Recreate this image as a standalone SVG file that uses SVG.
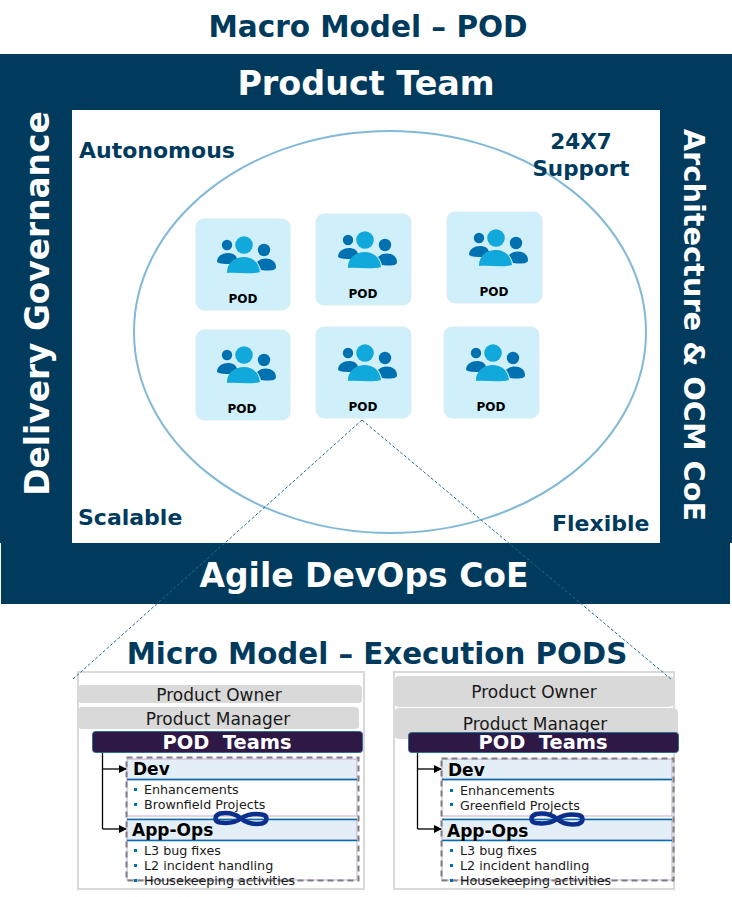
<svg xmlns="http://www.w3.org/2000/svg" width="732" height="897" viewBox="0 0 732 897">
<style>
text{font-family:"DejaVu Sans","Liberation Sans",sans-serif}
.t{font-weight:700;fill:#003a5d;text-anchor:middle}
.w{font-weight:700;fill:#fff;text-anchor:middle}
.l{font-weight:700;fill:#003a5d;font-size:22px}
.podbox{fill:#cff0fb;stroke:#d8ecf5;stroke-width:1}
.podlab{font-weight:700;font-size:12px;fill:#000;text-anchor:middle}
.d1{fill:#0071b0}.d2{fill:#11a9dc}
.grey{fill:#d9d9d9}
.frame{fill:#fff;stroke:#d9d9d9;stroke-width:2}
.pt{fill:#2d1846;stroke:#2f6f8f;stroke-width:1}
.pl{font-size:17px;fill:#1a1a1a;text-anchor:middle}
.pth{font-weight:700;font-size:19.400px;fill:#fff;text-anchor:middle;white-space:pre}
.hd{fill:#e4eef6;stroke:#c6a9dc;stroke-width:1}
.hl{stroke:#0071a8;stroke-width:1.500;fill:none}
.body{fill:#fff;stroke:#c6a9dc;stroke-width:1}
.dash{fill:none;stroke:#7f7f7f;stroke-width:2;stroke-dasharray:6 4}
.hdt{font-weight:700;font-size:17px;fill:#000}
.it{font-size:12.700px;fill:#1a1a1a}
.bl{fill:#0071b0}
.con{fill:none;stroke:#000;stroke-width:1.300}
.lead{fill:none;stroke:#1f6c9a;stroke-width:1;stroke-dasharray:3 2}
.inf{fill:none;stroke:#0a2f8c;stroke-width:4.500}
</style>
<defs>
<marker id="ah" markerWidth="8" markerHeight="8" refX="7" refY="4" orient="auto" markerUnits="userSpaceOnUse"><path d="M0 0L8 4L0 8Z" fill="#000"/></marker>
<g id="icon">
<circle cx="-16" cy="-12" r="5.200" class="d1"/>
<path d="M-26 5C-26 -6 -7 -7 -6 2C-9 3 -11 4 -13 7C-18 7 -23 7 -26 5Z" class="d1"/>
<circle cx="21" cy="-7" r="6.200" class="d1"/>
<path d="M14 5C20 -1 33 1 33 10C33 14 26 14 18 13C17 10 16 7 14 5Z" class="d1"/>
<circle cx="1" cy="-12" r="8.800" class="d2"/>
<path d="M-16 16C-17 -3 15 -7 17 15C6 18 -5 15 -16 16Z" class="d2"/>
</g>
<g id="lem">
<path d="M0 0C-7 -6 -14 -6 -21 -5C-27 -3 -27 3 -21 4C-14 5 -7 5 0 0C7 -5 14 -5 21 -4C27 -3 27 3 21 5C14 6 7 6 0 0Z" class="inf"/>
</g>
</defs>

<g id="title"><text x="368" y="37" class="t" font-size="29.500">Macro Model – POD</text></g>

<g id="product-team">
<rect x="0" y="54" width="732" height="489" fill="#003a5d"/>
<rect x="1" y="543" width="729" height="61" fill="#003a5d"/>
<rect x="72" y="110" width="588" height="433" fill="#fff"/>
<text x="366" y="95" class="w" font-size="33.400">Product Team</text>
</g>
<g id="delivery-governance"><text transform="translate(49 303.500) rotate(-90)" class="w" font-size="32.800">Delivery Governance</text></g>
<g id="architecture"><text transform="translate(684 325) rotate(90)" class="w" font-size="28.800">Architecture &amp; OCM CoE</text></g>
<g id="agile"><text x="364" y="587" class="w" font-size="33">Agile DevOps CoE</text></g>

<g id="circle"><ellipse cx="390" cy="332" rx="256" ry="201" fill="#fff" stroke="#82b9d8" stroke-width="2"/></g>
<g id="labels">
<text x="79" y="158" class="l">Autonomous</text>
<text x="581" y="149" class="l" text-anchor="middle" font-size="21.500" style="font-size:21.500px">24X7</text>
<text x="581" y="176" class="l" text-anchor="middle" style="font-size:21.500px">Support</text>
<text x="78" y="525" class="l">Scalable</text>
<text x="552" y="531" class="l">Flexible</text>
</g>

<g id="pod1"><rect x="196" y="219" width="94" height="91" rx="8" class="podbox"/><use href="#icon" x="243" y="257"/><text x="243" y="303" class="podlab">POD</text></g>
<g id="pod2"><rect x="316" y="214" width="95" height="91" rx="8" class="podbox"/><use href="#icon" x="364" y="252"/><text x="363" y="298" class="podlab">POD</text></g>
<g id="pod3"><rect x="447" y="212" width="95" height="91" rx="8" class="podbox"/><use href="#icon" x="495" y="250"/><text x="494" y="296" class="podlab">POD</text></g>
<g id="pod4"><rect x="196" y="330" width="94" height="90" rx="8" class="podbox"/><use href="#icon" x="243" y="367"/><text x="242" y="413" class="podlab">POD</text></g>
<g id="pod5"><rect x="316" y="327" width="95" height="91" rx="8" class="podbox"/><use href="#icon" x="364" y="365"/><text x="363" y="411" class="podlab">POD</text></g>
<g id="pod6"><rect x="444" y="327" width="95" height="91" rx="8" class="podbox"/><use href="#icon" x="492" y="365"/><text x="491" y="411" class="podlab">POD</text></g>

<g id="micro-title"><text x="377" y="664" class="t" font-size="29.300">Micro Model – Execution PODS</text></g>

<g id="micro-left">
<rect x="78" y="672" width="286" height="217" class="frame"/>
<rect x="78" y="685" width="284" height="18" rx="4" class="grey"/>
<text x="219" y="701" class="pl">Product Owner</text>
<rect x="78" y="707" width="281" height="22" rx="4" class="grey"/>
<text x="218" y="725" class="pl">Product Manager</text>
<rect x="92.500" y="731.500" width="270" height="21" rx="3" class="pt"/>
<text x="227" y="749" class="pth">POD  Teams</text>
<rect x="127" y="780" width="230" height="36" class="body"/>
<rect x="127" y="759" width="230" height="20" class="hd"/>
<path d="M127 779.500H357" class="hl"/>
<rect x="127" y="840" width="230" height="40" class="body"/>
<rect x="127" y="819" width="230" height="21" class="hd"/>
<path d="M127 819.500H357M127 840.500H357" class="hl"/>
<rect x="126.500" y="757.500" width="232" height="123" class="dash"/>
<path d="M102.500 753V829" class="con"/>
<path d="M102.500 769H126" class="con" marker-end="url(#ah)"/>
<path d="M102.500 829H126" class="con" marker-end="url(#ah)"/>
<text x="133" y="775" class="hdt">Dev</text>
<text x="132" y="836" class="hdt">App-Ops</text>
<rect x="134" y="788" width="3" height="3" class="bl"/><text x="144" y="794" class="it">Enhancements</text>
<rect x="134" y="803" width="3" height="3" class="bl"/><text x="144" y="809" class="it">Brownfield Projects</text>
<rect x="134" y="849" width="3" height="3" class="bl"/><text x="144" y="855" class="it">L3 bug fixes</text>
<rect x="134" y="864" width="3" height="3" class="bl"/><text x="144" y="870" class="it">L2 incident handling</text>
<rect x="134" y="879" width="3" height="3" class="bl"/><text x="144" y="885" class="it">Housekeeping activities</text>
<use href="#lem" x="241" y="818.500"/>
</g>

<g id="micro-right">
<rect x="394" y="672" width="280" height="217" class="frame"/>
<rect x="394" y="676" width="280" height="31" rx="5" class="grey"/>
<text x="534" y="698" class="pl">Product Owner</text>
<rect x="394" y="708" width="284" height="31" rx="5" class="grey"/>
<text x="535" y="730" class="pl">Product Manager</text>
<rect x="408.500" y="732.500" width="270" height="20" rx="3" class="pt"/>
<text x="543" y="749" class="pth">POD  Teams</text>
<rect x="442" y="780" width="230" height="36" class="body"/>
<rect x="442" y="759" width="230" height="20" class="hd"/>
<path d="M442 779.500H672" class="hl"/>
<rect x="442" y="840" width="230" height="40" class="body"/>
<rect x="442" y="819" width="230" height="21" class="hd"/>
<path d="M442 819.500H672M442 840.500H672" class="hl"/>
<rect x="441.500" y="758.500" width="232" height="122" class="dash"/>
<path d="M417.500 753V829" class="con"/>
<path d="M417.500 769H441" class="con" marker-end="url(#ah)"/>
<path d="M417.500 829H441" class="con" marker-end="url(#ah)"/>
<text x="448" y="776" class="hdt">Dev</text>
<text x="447" y="837" class="hdt">App-Ops</text>
<rect x="450" y="789" width="3" height="3" class="bl"/><text x="460" y="795" class="it">Enhancements</text>
<rect x="450" y="803" width="3" height="3" class="bl"/><text x="460" y="810" class="it">Greenfield Projects</text>
<rect x="450" y="849" width="3" height="3" class="bl"/><text x="460" y="855" class="it">L3 bug fixes</text>
<rect x="450" y="864" width="3" height="3" class="bl"/><text x="460" y="870" class="it">L2 incident handling</text>
<rect x="450" y="879" width="3" height="3" class="bl"/><text x="460" y="885" class="it">Housekeeping activities</text>
<use href="#lem" x="557" y="819"/>
</g>

<g id="connectors">
<path d="M362 420L73 679" class="lead"/>
<path d="M362 420L672 680" class="lead"/>
</g>
</svg>
